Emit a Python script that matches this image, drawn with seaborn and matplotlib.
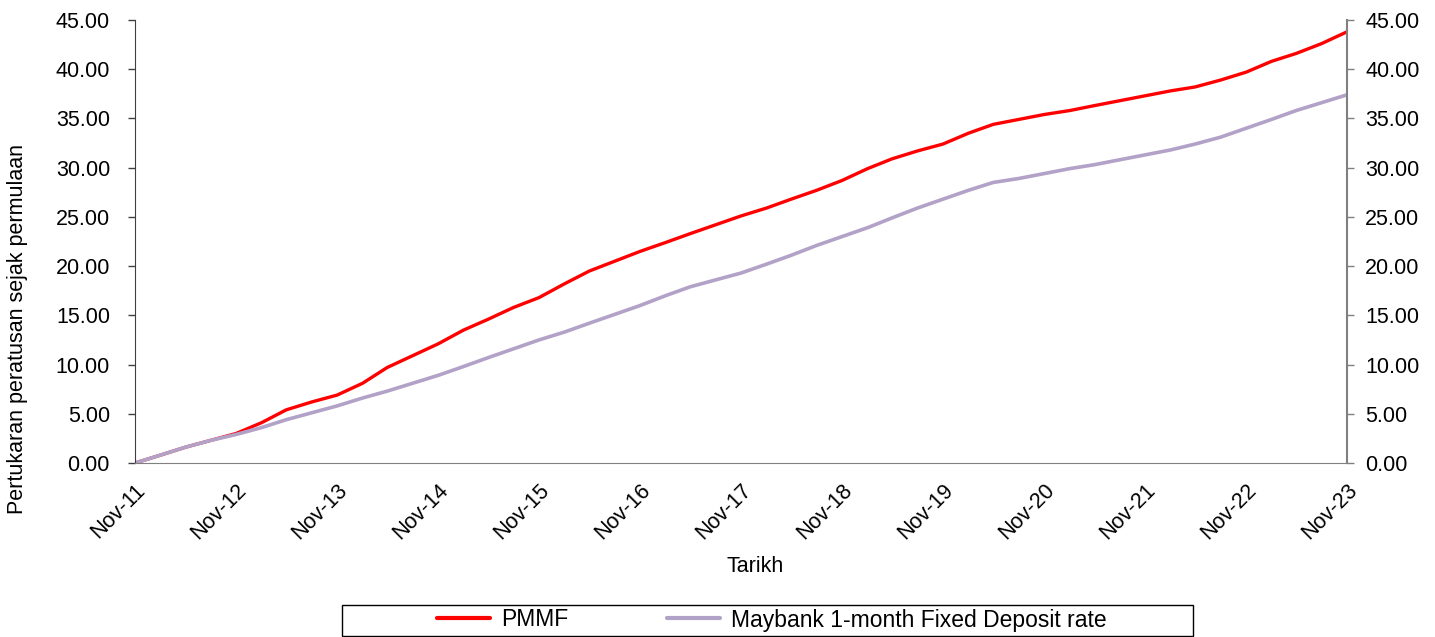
import numpy as np
import pandas as pd
import matplotlib
matplotlib.use("Agg")
import matplotlib.pyplot as plt
import matplotlib.dates as mdates
from matplotlib.patches import Rectangle
import seaborn as sns

# quarterly observations, Nov-2011 .. Nov-2023
dates = pd.date_range("2011-11-01", "2023-11-01", freq="3MS")

pmmf = [
    0.0, 0.8, 1.6, 2.3, 3.0, 4.1, 5.4, 6.2,
    6.9, 8.1, 9.7, 10.9, 12.1, 13.5, 14.6, 15.8,
    16.8, 18.2, 19.5, 20.5, 21.5, 22.4, 23.3, 24.2,
    25.1, 25.9, 26.8, 27.7, 28.7, 29.9, 30.9, 31.7,
    32.4, 33.5, 34.4, 34.9, 35.4, 35.8, 36.3, 36.8,
    37.3, 37.8, 38.2, 38.9, 39.7, 40.8, 41.6, 42.6,
    43.8,
]
maybank = [
    0.0, 0.8, 1.6, 2.3, 2.9, 3.6, 4.4, 5.1,
    5.8, 6.6, 7.3, 8.1, 8.9, 9.8, 10.7, 11.6,
    12.5, 13.3, 14.2, 15.1, 16.0, 17.0, 17.9, 18.6,
    19.3, 20.2, 21.1, 22.1, 23.0, 23.9, 24.9, 25.9,
    26.8, 27.7, 28.5, 28.9, 29.4, 29.9, 30.3, 30.8,
    31.3, 31.8, 32.4, 33.1, 34.0, 34.9, 35.8, 36.6,
    37.4,
]

series_names = ["PMMF", "Maybank 1-month Fixed Deposit rate"]
colors = ["#FF0000", "#B3A2C7"]
y_ticks = np.arange(0, 46, 5)

sns.set_style("white")
plt.rcParams["font.family"] = ["Liberation Sans", "DejaVu Sans"]
plt.rcParams["text.color"] = "black"
plt.rcParams["xtick.color"] = "black"
plt.rcParams["ytick.color"] = "black"
plt.rcParams["axes.labelcolor"] = "black"

W, H = 1435, 637
fig = plt.figure(figsize=(W / 100, H / 100), dpi=100)
ax = fig.add_axes([135 / W, 1 - 463 / H, (1347 - 135) / W, (463 - 20) / H])

df = pd.DataFrame({"date": dates, series_names[0]: pmmf, series_names[1]: maybank})
long = df.melt(id_vars="date", var_name="series", value_name="value")

sns.lineplot(data=long, x="date", y="value", hue="series", hue_order=series_names,
             palette=colors, ax=ax, legend=False)
for line, lw in zip(ax.get_lines(), [2.4, 2.6]):
    line.set_linewidth(lw)
    line.set_solid_capstyle("round")

ax.set_xlim(dates[0], dates[-1])
ax.set_ylim(0, 45)
ax.set_yticks(y_ticks)
ax.yaxis.set_major_formatter(matplotlib.ticker.FormatStrFormatter("%.2f"))
ax.xaxis.set_major_locator(mdates.MonthLocator(bymonth=11))
ax.xaxis.set_major_formatter(mdates.DateFormatter("%b-%y"))

for lbl in ax.get_xticklabels():
    lbl.set_rotation(45)
    lbl.set_ha("right")
    lbl.set_rotation_mode("anchor")
ax.tick_params(axis="x", length=0, labelsize=15.5, pad=12)
ax.tick_params(axis="y", direction="out", length=5, width=1, color="#404040",
               labelsize=15.5, left=True, pad=13)

ax.spines["top"].set_visible(False)
ax.spines["right"].set_visible(False)
ax.spines["left"].set_color("#404040")
ax.spines["bottom"].set_color("#808080")

ax.set_xlabel("Tarikh", fontsize=15.5)
ax.xaxis.set_label_coords((755 - 135) / 1212, (463 - 556) / 443)
ax.set_ylabel("Pertukaran peratusan sejak permulaan", fontsize=15.5)
ax.yaxis.set_label_coords((28 - 135) / 1212, (463 - 329) / 443)

ax2 = ax.twinx()
ax2.set_ylim(0, 45)
ax2.set_yticks(y_ticks)
ax2.yaxis.set_major_formatter(matplotlib.ticker.FormatStrFormatter("%.2f"))
ax2.tick_params(axis="y", direction="out", length=5, width=1, color="#808080",
                labelsize=15.5, right=True, pad=8)
for side in ["top", "left", "bottom"]:
    ax2.spines[side].set_visible(False)
ax2.spines["right"].set_color("#808080")
ax2.spines["right"].set_linewidth(1.5)

# legend: wide box drawn separately, entries centred inside it
fig.patches.append(Rectangle((342 / W, 1 - 636 / H), (1193 - 342) / W, 31 / H,
                             transform=fig.transFigure, fill=False,
                             edgecolor="black", lw=1))
handles = [plt.Line2D([], [], color=c, lw=3) for c in colors]
fig.legend(handles, series_names, loc="center", ncol=2,
           bbox_to_anchor=(772 / W, 1 - 620 / H), frameon=False,
           fontsize=16.5, columnspacing=4.3, handlelength=2.3,
           handletextpad=0.5, borderpad=0.2)

fig.savefig("out.png", dpi=100)
